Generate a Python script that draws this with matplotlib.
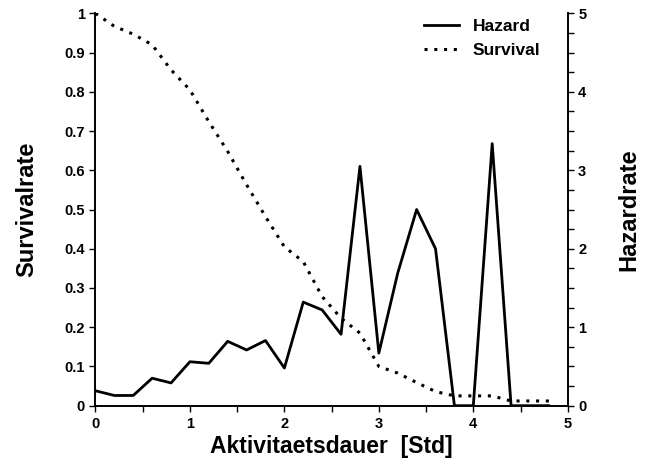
import numpy as np
import matplotlib.pyplot as plt
from matplotlib.ticker import MultipleLocator

plt.rcParams['font.family'] = ['Liberation Sans', 'DejaVu Sans']

# Zeitpunkte (Std) und Schaetzwerte
dauer = [0.0, 0.2, 0.4, 0.6, 0.8, 1.0, 1.2, 1.4, 1.6, 1.8, 2.0, 2.2, 2.4,
         2.6, 2.8, 3.0, 3.2, 3.4, 3.6, 3.8, 4.0, 4.2, 4.4, 4.6, 4.8]
hazard = [0.19, 0.13, 0.13, 0.35, 0.29, 0.56, 0.54, 0.82, 0.71, 0.83, 0.48,
          1.32, 1.22, 0.91, 3.05, 0.67, 1.69, 2.50, 2.00, 0.0, 0.0, 3.34,
          0.0, 0.0, 0.0]
survival = [1.0, 0.967, 0.947, 0.92, 0.856, 0.805, 0.724, 0.648, 0.563,
            0.482, 0.405, 0.367, 0.278, 0.223, 0.185, 0.10, 0.083, 0.059,
            0.036, 0.025, 0.025, 0.025, 0.012, 0.012, 0.012]

fig = plt.figure(figsize=(6.56, 4.61), dpi=100)
ax = fig.add_axes([0.1455, 0.12, 0.72, 0.851])
ax2 = ax.twinx()

ax.plot(dauer, survival, color='black', linestyle=(0, (1, 2.2)), linewidth=2.2,
        label='Survival')
ax2.plot(dauer, hazard, color='black', linewidth=2, label='Hazard')

ax.set_xlim(0, 5)
ax.set_ylim(0, 1)
ax2.set_ylim(0, 5)

ax.xaxis.set_major_locator(MultipleLocator(1))
ax.xaxis.set_minor_locator(MultipleLocator(0.5))
ax.yaxis.set_major_locator(MultipleLocator(0.1))
ax2.yaxis.set_major_locator(MultipleLocator(1))
ax2.yaxis.set_minor_locator(MultipleLocator(0.25))

ax.set_yticklabels([f'{v:g}' for v in np.round(ax.get_yticks(), 1)])

for a in (ax, ax2):
    a.spines['top'].set_visible(False)
    for s in ('left', 'right', 'bottom'):
        a.spines[s].set_linewidth(1.2)
    a.tick_params(which='both', direction='out', width=1, length=4,
                  labelsize=10.5)
    for lbl in a.get_xticklabels() + a.get_yticklabels():
        lbl.set_fontweight('bold')
ax.tick_params(axis='x', pad=4)
ax2.tick_params(which='minor', length=4)

ax.set_xlabel('Aktivitaetsdauer  [Std]', fontsize=16.5, fontweight='bold',
              labelpad=3)
ax.set_ylabel('Survivalrate', fontsize=17, fontweight='bold', labelpad=19)
ax2.set_ylabel('Hazardrate', fontsize=17, fontweight='bold', labelpad=22)

h1, l1 = ax2.get_legend_handles_labels()
h2, l2 = ax.get_legend_handles_labels()
ax2.legend(h1 + h2, l1 + l2, loc='upper right', frameon=False,
           prop={'size': 12.5, 'weight': 'bold'}, handlelength=2.0,
           handletextpad=0.8, bbox_to_anchor=(0.975, 1.025), labelspacing=0.5)

fig.savefig('out.png', dpi=100)
